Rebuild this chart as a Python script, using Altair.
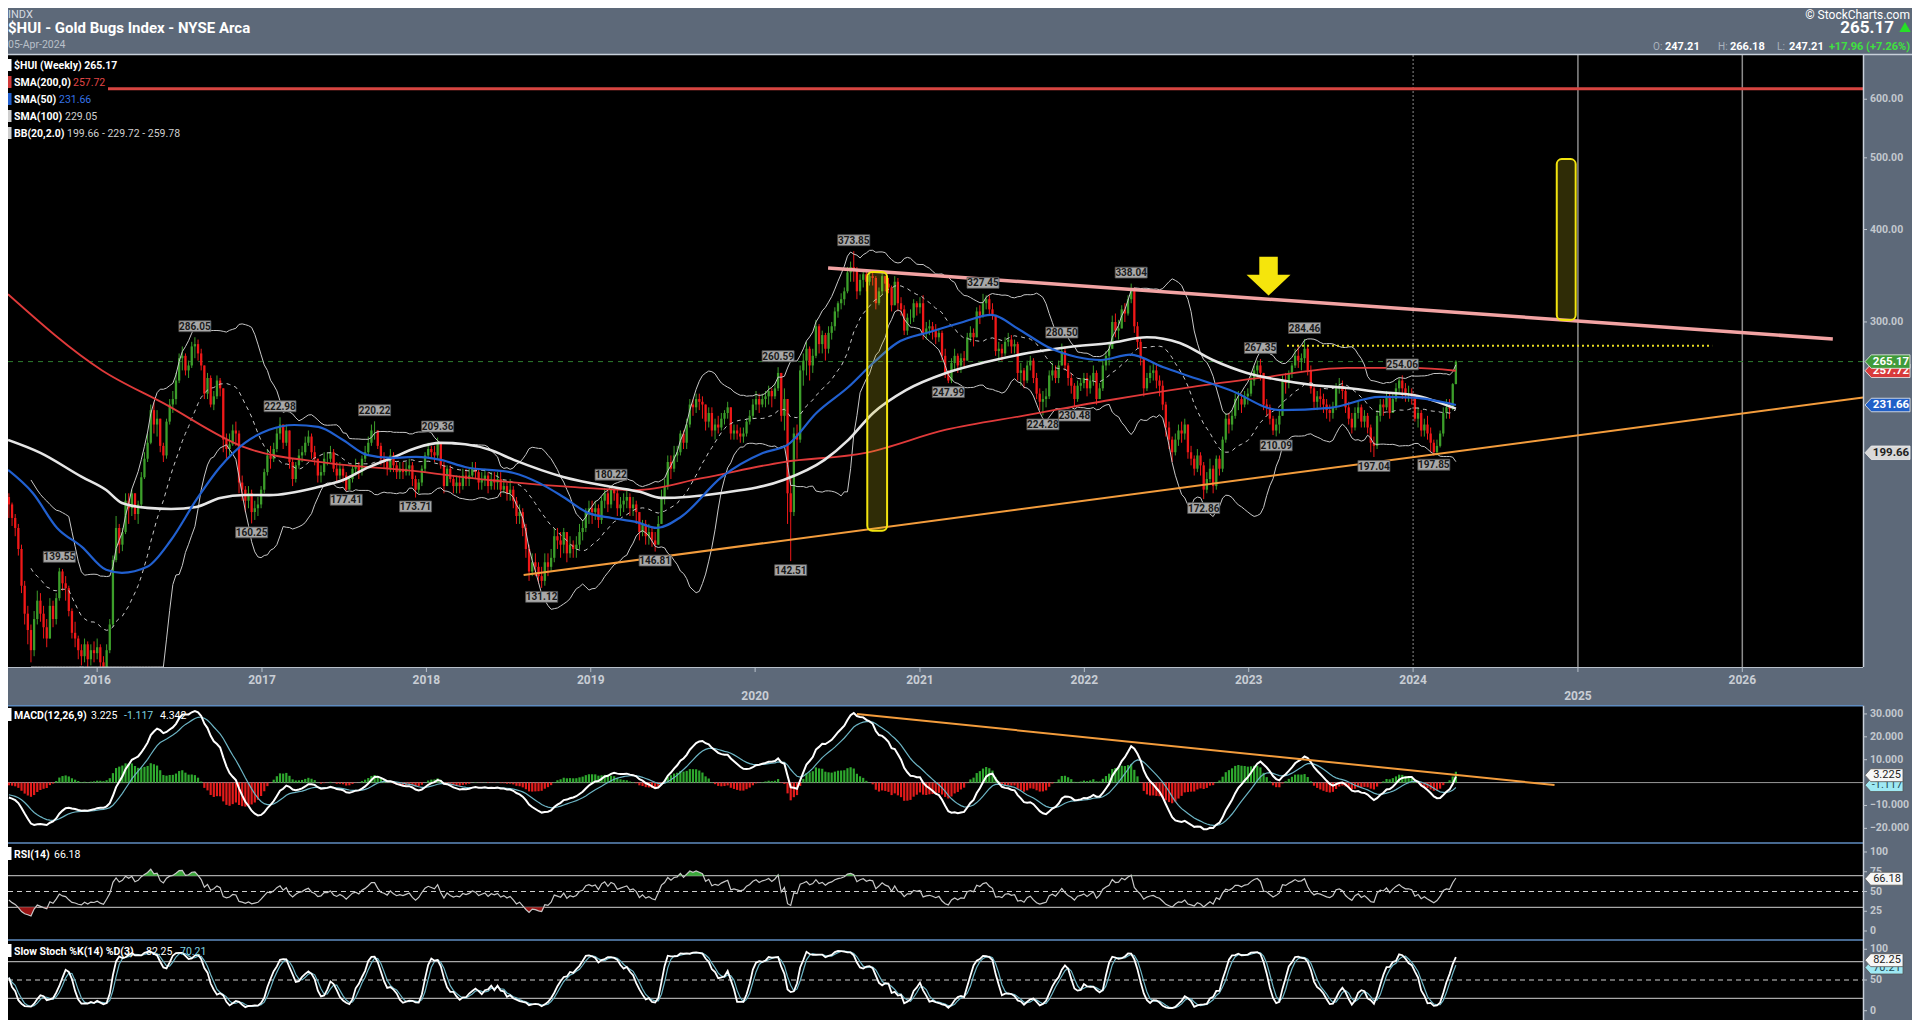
import altair as alt
import numpy as np
import pandas as pd

# ---------------- weekly $HUI candles (one value per Friday) ----------------
first_open = 174.0
close_2015 = [170, 163, 158, 148, 132, 121, 115, 108, 119, 126, 121, 116, 112, 124, 119,
              127, 138, 133, 131, 122, 114, 112, 108, 106, 110, 105, 108, 107]
high_2015 = [176, 171, 165, 160, 150, 134, 124, 117, 122, 130, 129, 124, 119, 127, 126,
             129, 139.55, 139, 136, 132, 123, 118, 113, 110, 112, 111, 110, 111]
low_2015 = [163, 159, 154, 145, 129, 117, 110, 104, 106, 117, 118, 112, 109, 112, 116,
            117, 126, 130, 126, 120, 112, 109, 105, 103, 104, 102, 103, 104]

close_2016 = [109, 104, 101, 108, 117, 143, 158, 150, 156, 172, 168, 176, 165, 170, 185, 196, 206, 228,
              218, 222, 204, 198, 220, 232, 236, 250, 268, 270, 258, 262, 278, 280, 272, 262, 240,
              252, 232, 238, 250, 244, 208, 202, 205, 214, 212, 182, 178, 172, 176, 166, 168, 170, 178]
high_2016 = [112, 110, 106, 110, 119, 145, 164, 160, 158, 176, 176, 178, 174, 172, 188, 200, 212, 232,
             234, 228, 222, 206, 222, 236, 242, 256, 272, 278, 272, 266, 282, 286.05, 284, 276, 262,
             256, 254, 242, 254, 252, 240, 212, 212, 218, 220, 214, 186, 180, 180, 178, 172, 174, 180]
low_2016 = [105, 101, 99, 100, 107, 116, 142, 146, 147, 155, 160, 164, 162, 160, 168, 184, 194, 205,
            212, 210, 200, 194, 196, 218, 226, 232, 248, 258, 254, 252, 260, 268, 266, 258, 236,
            236, 230, 228, 236, 238, 200, 196, 198, 204, 204, 176, 172, 166, 168, 160.25, 162, 164, 168]

close_2017 = [188, 198, 196, 202, 212, 218, 206, 214, 194, 184, 192, 198, 200, 206, 210, 200, 196,
              186, 188, 196, 196, 200, 190, 186, 190, 186, 178, 184, 190, 192, 188, 196, 200, 206,
              214, 214, 204, 196, 194, 190, 198, 192, 188, 190, 188, 190, 192, 184, 178, 182, 190, 198]
high_2017 = [190, 202, 204, 206, 216, 222.98, 218, 218, 212, 196, 194, 202, 204, 210, 214, 212, 204,
             196, 192, 200, 200, 204, 202, 194, 194, 192, 188, 186, 192, 196, 194, 198, 204, 210,
             218, 220.22, 214, 206, 200, 196, 202, 200, 194, 194, 194, 194, 196, 194, 186, 184, 192, 200]
low_2017 = [176, 186, 190, 194, 200, 208, 202, 204, 190, 180, 182, 190, 194, 198, 204, 196, 192,
            182, 182, 186, 192, 194, 188, 182, 184, 182, 177.41, 179, 182, 186, 184, 186, 194, 198,
            204, 208, 202, 192, 190, 186, 188, 188, 184, 184, 184, 186, 186, 180, 173.71, 176, 180, 188]

close_2018 = [202, 200, 198, 206, 192, 180, 190, 184, 180, 182, 180, 186, 184, 186, 190, 188, 182,
              184, 186, 180, 184, 182, 184, 178, 180, 176, 178, 172, 164, 166, 158, 148, 138, 142, 140,
              136, 134, 142, 140, 144, 154, 152, 150, 156, 146, 150, 148, 150, 156, 158, 166, 168]
high_2018 = [206, 204, 204, 209.36, 206, 194, 192, 192, 186, 186, 186, 190, 190, 190, 194, 194, 190,
             188, 190, 188, 188, 188, 188, 188, 184, 182, 184, 180, 174, 170, 168, 160, 150, 146, 146,
             142, 140, 146, 146, 148, 158, 158, 156, 158, 156, 154, 152, 154, 160, 162, 168, 172]
low_2018 = [196, 196, 194, 196, 190, 176, 180, 182, 176, 176, 176, 178, 180, 180, 184, 184, 178,
            178, 180, 176, 178, 178, 178, 174, 176, 172, 172, 168, 160, 160, 154, 144, 134, 136, 136,
            133, 131.12, 132, 136, 138, 142, 148, 144, 146, 142, 144, 144, 144, 148, 152, 156, 160]

close_2019 = [166, 168, 162, 172, 176, 170, 178, 176, 168, 170, 172, 174, 168, 170, 166, 156, 160,
              154, 156, 152, 150, 160, 174, 180, 194, 190, 198, 200, 212, 206, 218, 232, 230, 236, 234,
              232, 220, 226, 214, 218, 216, 222, 226, 230, 212, 214, 212, 210, 212, 220, 224, 232]
high_2019 = [172, 172, 170, 174, 179, 178, 180.22, 178, 178, 174, 176, 178, 176, 174, 172, 166, 162,
             162, 160, 158, 156, 164, 178, 184, 198, 198, 204, 204, 214, 214, 222, 236, 236, 240, 240,
             238, 232, 230, 230, 222, 224, 226, 228, 234, 230, 218, 218, 216, 216, 222, 228, 236]
low_2019 = [160, 162, 158, 160, 168, 166, 168, 172, 164, 164, 166, 168, 164, 164, 160, 152, 154,
            150, 150, 149, 146.81, 150, 160, 170, 178, 184, 188, 194, 198, 202, 202, 216, 224, 226, 228,
            222, 214, 216, 210, 208, 212, 214, 218, 222, 208, 208, 208, 206, 206, 210, 218, 222]

close_2020 = [236, 232, 236, 238, 242, 238, 244, 256, 224, 236, 176, 166, 212, 208, 258, 266, 276,
              262, 270, 296, 280, 288, 276, 290, 296, 310, 318, 322, 330, 350, 356, 352, 330, 342, 348,
              340, 346, 344, 318, 330, 346, 338, 334, 316, 340, 318, 312, 292, 304, 304, 318, 314]
high_2020 = [242, 240, 240, 242, 246, 244, 248, 260.59, 256, 244, 236, 186, 216, 218, 262, 272, 282,
             278, 276, 302, 298, 292, 290, 296, 300, 314, 320, 328, 334, 356, 362, 373.85, 356, 348, 352,
             352, 350, 352, 346, 334, 350, 346, 344, 336, 346, 344, 324, 316, 308, 312, 322, 320]
low_2020 = [228, 226, 230, 230, 232, 230, 236, 242, 220, 214, 160, 142.51, 164, 196, 206, 246, 254,
            250, 256, 268, 272, 272, 266, 272, 284, 292, 304, 312, 316, 328, 340, 340, 322, 326, 334,
            330, 336, 336, 312, 316, 326, 330, 328, 310, 316, 310, 306, 288, 288, 298, 300, 306]

close_2021 = [318, 290, 294, 296, 292, 286, 290, 270, 256, 250, 264, 270, 262, 268, 266, 286, 290, 286,
              310, 306, 318, 322, 312, 306, 274, 276, 272, 282, 284, 278, 280, 256, 258, 250, 262,
              266, 252, 240, 234, 236, 238, 254, 258, 252, 262, 274, 262, 252, 246, 236, 246, 248, 252]
high_2021 = [324, 326, 300, 302, 300, 298, 294, 292, 276, 258, 268, 276, 272, 272, 274, 290, 296, 294,
             314, 316, 327.45, 326, 326, 318, 306, 282, 280, 286, 290, 288, 284, 282, 264, 260, 266,
             270, 268, 256, 244, 242, 244, 258, 264, 262, 266, 280.5, 278, 264, 256, 248, 250, 252, 256]
low_2021 = [308, 284, 284, 288, 284, 280, 282, 266, 252, 247.99, 248, 258, 256, 256, 260, 266, 282, 278,
            286, 298, 304, 312, 306, 302, 270, 268, 266, 270, 278, 272, 272, 250, 246, 244, 248,
            258, 248, 236, 228, 224.28, 230, 236, 250, 248, 248, 262, 258, 246, 240, 230.48, 234, 242, 244]

close_2022 = [244, 250, 256, 236, 244, 262, 270, 276, 300, 292, 294, 312, 308, 322, 332, 296, 282,
              268, 244, 252, 256, 258, 250, 246, 232, 216, 208, 200, 208, 214, 212, 218, 200, 196,
              190, 198, 192, 178, 184, 190, 180, 196, 190, 208, 222, 218, 224, 236, 236, 232, 238, 240]
high_2022 = [256, 254, 262, 258, 248, 266, 274, 282, 306, 308, 302, 316, 318, 326, 338.04, 334, 300,
             286, 268, 256, 262, 264, 264, 254, 250, 234, 220, 210, 212, 218, 220, 222, 218, 204,
             198, 202, 200, 194, 188, 196, 192, 198, 198, 210, 226, 226, 228, 240, 242, 240, 242, 244]
low_2022 = [238, 240, 246, 232, 236, 242, 258, 262, 276, 286, 284, 294, 300, 306, 318, 290, 276,
            262, 238, 242, 248, 250, 244, 238, 228, 210, 202, 194, 198, 204, 206, 208, 196, 192,
            186, 188, 186, 172.86, 176, 182, 176, 178, 186, 188, 206, 212, 214, 222, 228, 226, 230, 232]

close_2023 = [250, 258, 262, 256, 232, 230, 222, 214, 218, 224, 250, 248, 256, 262, 270, 266, 268,
              276, 258, 244, 234, 238, 236, 232, 228, 226, 230, 244, 246, 242, 230, 222, 216, 226,
              230, 220, 224, 216, 206, 204, 224, 232, 230, 238, 226, 236, 244, 250, 244, 240, 240, 238]
high_2023 = [254, 262, 266, 267.35, 254, 236, 232, 224, 222, 228, 254, 256, 258, 264, 276, 278, 272,
             284.46, 278, 262, 246, 242, 244, 240, 236, 232, 234, 248, 252, 250, 244, 234, 226, 230,
             234, 232, 228, 226, 218, 210, 228, 236, 236, 242, 240, 240, 248, 252, 254.06, 248, 246, 244]
low_2023 = [238, 246, 252, 250, 228, 224, 218, 211, 210.09, 212, 226, 240, 244, 252, 260, 260, 258,
            264, 254, 240, 228, 228, 230, 226, 222, 220, 222, 228, 240, 236, 226, 218, 212, 214,
            222, 216, 216, 212, 200, 197.04, 202, 220, 224, 228, 222, 226, 234, 240, 236, 234, 234, 232]

close_2024 = [222, 226, 214, 218, 212, 206, 200, 204, 212, 226, 230, 229, 247.21, 265.17]
high_2024 = [240, 230, 228, 222, 224, 216, 208, 208, 214, 230, 236, 236, 248, 266.18]
low_2024 = [220, 216, 210, 210, 208, 200, 197.85, 198, 203, 210, 222, 222, 228, 247.21]

# indicator state carried in from the weeks before the visible window (read to match the left edge)
macd_seed_fast, macd_seed_slow, macd_seed_signal = 176.0, 182.5, -5.0
rsi_seed_gain, rsi_seed_loss = 2.4, 3.4

# ---------------- moving averages ----------------
sma200_dates = ["2015-06-17", "2016-01-12", "2016-05-27", "2016-11-24", "2017-05-24", "2017-11-22",
                "2018-05-22", "2018-11-18", "2019-04-11", "2019-09-05", "2020-03-04", "2020-09-02",
                "2021-02-28", "2021-08-29", "2022-02-27", "2022-08-26", "2023-01-26", "2023-08-07",
                "2024-01-01", "2024-04-05"]
sma200_vals = [327, 258, 233, 203, 193.5, 189, 183.4, 179.5, 177.8, 184.5, 194, 199.6, 214.5, 224.6,
               235.3, 245, 252, 260, 260, 257.72]

sma50_dates = ["2015-06-17", "2015-08-11", "2015-10-04", "2015-11-28", "2016-01-21", "2016-02-25",
               "2016-04-21", "2016-06-13", "2016-08-08", "2016-09-30", "2016-11-24", "2017-01-17",
               "2017-03-14", "2017-05-06", "2017-06-30", "2017-08-22", "2017-10-17", "2017-12-09",
               "2018-02-02", "2018-03-28", "2018-07-14", "2018-09-08", "2018-11-01", "2018-12-26",
               "2019-02-17", "2019-04-11", "2019-05-28", "2019-07-20", "2019-10-19", "2020-01-18",
               "2020-03-13", "2020-05-16", "2020-07-26", "2020-09-19", "2020-11-11", "2021-01-23",
               "2021-04-07", "2021-06-08", "2021-08-11", "2021-10-12", "2021-12-15", "2022-02-07",
               "2022-04-13", "2022-06-24", "2022-08-01", "2022-11-20", "2023-03-11", "2023-06-30",
               "2023-10-19", "2024-01-01", "2024-04-05"]
sma50_vals = [189.3, 176.2, 158, 149, 138.7, 137.4, 140, 152.2, 172.4, 191, 205.9, 214.5, 217.7, 216.4,
              207.8, 198.4, 196.5, 197.1, 195.3, 191, 187.5, 181.8, 174, 165.6, 163, 161, 158, 163.5,
              185.2, 199.5, 204.6, 226, 245, 264, 281, 290.8, 300, 306.6, 292.6, 277.5, 269, 266.5,
              271, 260.8, 256, 242.7, 228, 229.6, 237.6, 237, 231.66]

sma100_dates = ["2015-06-17", "2015-08-28", "2015-11-28", "2016-01-21", "2016-02-25", "2016-04-21",
                "2016-06-13", "2016-08-08", "2016-09-30", "2016-11-24", "2017-01-17", "2017-05-06",
                "2017-06-30", "2017-08-22", "2017-10-17", "2017-12-09", "2018-02-02", "2018-03-28",
                "2018-05-22", "2018-07-14", "2018-11-01", "2019-02-17", "2019-04-20", "2019-06-06",
                "2019-10-19", "2020-03-04", "2020-06-03", "2020-07-26", "2020-09-19", "2020-12-01",
                "2021-02-28", "2021-05-30", "2021-08-29", "2021-11-28", "2022-02-27", "2022-05-20",
                "2022-08-01", "2022-10-13", "2022-12-28", "2023-03-11", "2023-05-23", "2023-08-07",
                "2023-10-19", "2024-01-01", "2024-04-05"]
sma100_vals = [207.8, 199.6, 185.2, 177.8, 170.8, 168.2, 167.6, 168.7, 173.5, 175.1, 175, 179.5, 183.4,
               190.5, 196.5, 202.7, 205.9, 205, 201.5, 195.3, 185.2, 179.5, 176.8, 173.5, 176.2, 183.4,
               195.3, 207.8, 226, 242.7, 256, 265, 272.3, 277.5, 281, 286, 281, 266.5, 256, 250.4,
               246.6, 244.3, 241.2, 239, 229.05]

# ---------------- price labels at swing highs / lows ----------------
peak_dates = ["2015-10-09", "2016-08-05", "2017-02-10", "2017-09-08", "2018-01-26", "2019-02-15",
              "2020-02-21", "2020-08-07", "2021-05-21", "2021-11-12", "2022-04-15", "2023-01-27",
              "2023-05-05", "2023-12-08"]
peak_vals = [139.55, 286.05, 222.98, 220.22, 209.36, 180.22, 260.59, 373.85, 327.45, 280.50, 338.04,
             267.35, 284.46, 254.06]
trough_dates = ["2016-12-09", "2017-07-07", "2017-12-08", "2018-09-14", "2019-05-24", "2020-03-20",
                "2021-03-05", "2021-10-01", "2021-12-10", "2022-09-23", "2023-03-03", "2023-10-06",
                "2024-02-16"]
trough_vals = [160.25, 177.41, 173.71, 131.12, 146.81, 142.51, 247.99, 224.28, 230.48, 172.86, 210.09,
               197.04, 197.85]

# ---------------- annotations ----------------
pink_dates = ["2020-06-11", "2026-07-21"]
pink_vals = [354.8, 284.5]
orange_dates = ["2018-08-05", "2026-09-26"]
orange_vals = [136.5, 237.1]
macd_trend_dates = ["2020-08-14", "2024-11-10"]
macd_trend_vals = [30.0, -1.05]
box_start = ["2020-09-06", "2024-11-15"]
box_end = ["2020-10-20", "2024-12-27"]
box_low = [156.6, 301.9]
box_high = [350.5, 498.0]
dotted_start, dotted_end, dotted_val = "2023-03-27", "2025-10-26", 278.5
arrow_date, arrow_val = "2023-02-14", 346.0
red_level = 620.0
last_close = 265.17
price_ticks = [300, 400, 500, 600]
macd_ticks = [30, 20, 10, -10, -20]
rsi_ticks = [100, 75, 50, 25, 0]
stoch_ticks = [100, 50, 0]
years = list(range(2016, 2027))
price_tags = [("257.72", 257.72, "#d83a3a", "#ffffff"), ("265.17", 265.17, "#3f9b3a", "#ffffff"),
              ("231.66", 231.66, "#2160c8", "#ffffff"), ("199.66", 199.66, "#d9d9d9", "#222222")]

# ---------------- build the weekly frame and indicators ----------------
closes = close_2015 + close_2016 + close_2017 + close_2018 + close_2019 + close_2020 + close_2021 + close_2022 + close_2023 + close_2024
highs = high_2015 + high_2016 + high_2017 + high_2018 + high_2019 + high_2020 + high_2021 + high_2022 + high_2023 + high_2024
lows = low_2015 + low_2016 + low_2017 + low_2018 + low_2019 + low_2020 + low_2021 + low_2022 + low_2023 + low_2024
n = len(closes)
end = pd.Timestamp("2024-04-05")
dates = [(end - pd.Timedelta(weeks=n - 1 - i)).strftime("%Y-%m-%d") for i in range(n)]
c = pd.Series(closes, dtype=float)
o = c.shift(1).fillna(first_open)
h = pd.Series(np.maximum(np.maximum(np.array(highs, dtype=float), o.values), c.values))
lo = pd.Series(np.minimum(np.minimum(np.array(lows, dtype=float), o.values), c.values))

mid = c.rolling(20, min_periods=8).mean()
sdv = c.rolling(20, min_periods=8).std(ddof=0)

# MACD(12,26,9) and RSI(14) with Wilder smoothing, continuing from the seeded state
a12, a26, a9 = 2 / 13, 2 / 27, 2 / 10
ef, es, sg = macd_seed_fast, macd_seed_slow, macd_seed_signal
ag, al = rsi_seed_gain, rsi_seed_loss
prev = first_open
macd_l, sig_l, rsi_l = [], [], []
for v in c.values:
    ef = ef + a12 * (v - ef)
    es = es + a26 * (v - es)
    m = ef - es
    sg = sg + a9 * (m - sg)
    ch = v - prev
    ag = (ag * 13 + max(ch, 0)) / 14
    al = (al * 13 + max(-ch, 0)) / 14
    prev = v
    macd_l.append(m)
    sig_l.append(sg)
    rsi_l.append(100 - 100 / (1 + ag / al))
macd = pd.Series(macd_l)
sig = pd.Series(sig_l)
hist = macd - sig
rsi = pd.Series(rsi_l)

ll = lo.rolling(14, min_periods=1).min()
hh = h.rolling(14, min_periods=1).max()
fk = 100 * (c - ll) / (hh - ll)
sk = fk.rolling(3, min_periods=1).mean()
sdd = sk.rolling(3, min_periods=1).mean()

df = pd.DataFrame({
    "date": dates, "open": o, "high": h, "low": lo, "close": c,
    "col": np.where(c >= o, "#3c9e2a", "#f01818"),
    "bbu": mid + 2 * sdv, "bbm": mid, "bbl": mid - 2 * sdv,
    "macd": macd, "sig": sig, "hist": hist, "zero": 0.0,
    "hcol": np.where(hist >= 0, "#2ea82e", "#e31b1b"),
    "rsi": rsi, "rhi": np.maximum(rsi, 70), "rlo": np.minimum(rsi, 30),
    "r70": 70.0, "r30": 30.0, "k": sk, "d": sdd,
})

# ---------------- scales (pixel ranges of each panel) ----------------
W, H = 1904, 1012
PW = 1855
P_TOP, P_BOT = 47, 659
M_TOP, M_BOT = 697.7, 835
R_TOP, R_BOT = 835, 932
S_TOP, S_BOT = 932, 1012

xs = alt.Scale(domain=[alt.DateTime(year=2015, month=6, date=17, utc=True),
                       alt.DateTime(year=2026, month=9, date=26, utc=True)], range=[0, PW])
ys_p = alt.Scale(type="log", domain=[102.5, 688.6], range=[P_BOT, P_TOP], clamp=True, nice=False)
ys_m = alt.Scale(domain=[-26.4, 33.6], range=[M_BOT, M_TOP], clamp=True, nice=False, zero=False)
ys_r = alt.Scale(domain=[-11.4, 111.4], range=[R_BOT, R_TOP], clamp=True, nice=False, zero=False)
ys_s = alt.Scale(domain=[-15.1, 115.1], range=[S_BOT, S_TOP], clamp=True, nice=False, zero=False)

FONT = "Roboto"
one = pd.DataFrame({"a": [0]})


def X(f="date"):
    return alt.X(f + ":T", scale=xs, axis=None)


def Y(f, s):
    return alt.Y(f + ":Q", scale=s, axis=None)


def box(x0, x1, y0, y1, fill):
    return alt.Chart(one).mark_rect(fill=fill).encode(
        x=alt.value(x0), x2=alt.value(x1), y=alt.value(y0), y2=alt.value(y1))


def hline(y, x0, x1, color, width=1.0, dash=None):
    kw = dict(color=color, strokeWidth=width)
    if dash:
        kw["strokeDash"] = dash
    return alt.Chart(one).mark_rule(**kw).encode(x=alt.value(x0), x2=alt.value(x1), y=alt.value(y))


def vline(x, y0, y1, color, width=1.0):
    return alt.Chart(one).mark_rule(color=color, strokeWidth=width).encode(
        x=alt.value(x), y=alt.value(y0), y2=alt.value(y1))


def txt(x, y, s, size=10.5, color="#ffffff", weight="normal", align="left", baseline="alphabetic"):
    return alt.Chart(one).mark_text(text=s, font=FONT, fontSize=size, color=color, fontWeight=weight,
                                    align=align, baseline=baseline).encode(x=alt.value(x), y=alt.value(y))


def level(v, s, color, width=1.0, dash=None):
    kw = dict(color=color, strokeWidth=width)
    if dash:
        kw["strokeDash"] = dash
    return alt.Chart(pd.DataFrame({"v": [v]})).mark_rule(**kw).encode(
        y=Y("v", s), x=alt.value(0), x2=alt.value(PW))


def series_line(frame, field, s, color, width, dash=None, interp="linear"):
    kw = dict(color=color, strokeWidth=width, interpolate=interp)
    if dash:
        kw["strokeDash"] = dash
    return alt.Chart(frame).mark_line(**kw).encode(x=X(), y=Y(field, s))


L = []
# panel backgrounds
L.append(box(0, PW, P_TOP, P_BOT, "#000000"))
L.append(box(0, PW, M_TOP, S_BOT + 10, "#000000"))

# year grid lines in the price panel
yl = pd.DataFrame({"date": ["2024-01-01"]})
L.append(alt.Chart(yl).mark_rule(color="#8c8c8c", strokeWidth=1, strokeDash=[2, 2]).encode(
    x=X(), y=alt.value(P_TOP), y2=alt.value(P_BOT)))
yl2 = pd.DataFrame({"date": ["2025-01-01", "2026-01-01"]})
L.append(alt.Chart(yl2).mark_rule(color="#8c8c8c", strokeWidth=1.5).encode(
    x=X(), y=alt.value(P_TOP), y2=alt.value(P_BOT)))

# horizontal levels
L.append(level(red_level, ys_p, "#d64541", 3))
L.append(level(last_close, ys_p, "#2e7d2e", 1, [5, 5]))

# candles
L.append(alt.Chart(df).mark_rule(strokeWidth=1).encode(
    x=X(), y=Y("low", ys_p), y2="high:Q", color=alt.Color("col:N", scale=None)))
L.append(alt.Chart(df).mark_rule(strokeWidth=2.3, strokeCap="butt").encode(
    x=X(), y=Y("open", ys_p), y2="close:Q", color=alt.Color("col:N", scale=None)))

# Bollinger bands
L.append(series_line(df, "bbu", ys_p, "#c8c8c8", 1))
L.append(series_line(df, "bbl", ys_p, "#c8c8c8", 1))
L.append(series_line(df, "bbm", ys_p, "#c8c8c8", 1, [4, 4]))

# moving averages
s200 = pd.DataFrame({"date": sma200_dates, "v": sma200_vals})
s100 = pd.DataFrame({"date": sma100_dates, "v": sma100_vals})
s50 = pd.DataFrame({"date": sma50_dates, "v": sma50_vals})
L.append(series_line(s200, "v", ys_p, "#e03a3a", 1.8, interp="monotone"))
L.append(series_line(s100, "v", ys_p, "#e6e6e6", 2.6, interp="monotone"))
L.append(series_line(s50, "v", ys_p, "#2160d0", 2.2, interp="monotone"))

# trend lines
L.append(series_line(pd.DataFrame({"date": pink_dates, "v": pink_vals}), "v", ys_p, "#f2a3a3", 3.5))
L.append(series_line(pd.DataFrame({"date": orange_dates, "v": orange_vals}), "v", ys_p, "#f39c3c", 2))
L.append(alt.Chart(pd.DataFrame({"d0": [dotted_start], "d1": [dotted_end], "v": [dotted_val]})).mark_rule(
    color="#e8dc22", strokeWidth=2, strokeDash=[2, 3]).encode(x=X("d0"), x2="d1:T", y=Y("v", ys_p)))

# yellow highlight boxes
bx = pd.DataFrame({"d0": box_start, "d1": box_end, "p0": box_low, "p1": box_high})
L.append(alt.Chart(bx).mark_rect(cornerRadius=5, fill="#d8c81a", fillOpacity=0.22, stroke="#f2e40f",
                                 strokeWidth=2).encode(x=X("d0"), x2="d1:T", y=Y("p0", ys_p), y2="p1:Q"))

# yellow arrow
ARROW = "M-0.42,-0.886 L0.42,-0.886 L0.42,-0.068 L1,-0.068 L0,0.886 L-1,-0.068 L-0.42,-0.068 Z"
L.append(alt.Chart(pd.DataFrame({"date": [arrow_date], "v": [arrow_val]})).mark_point(
    shape=ARROW, size=1936, filled=True, fill="#f5e50c", opacity=1, strokeWidth=0).encode(
    x=X(), y=Y("v", ys_p)))

# swing labels
BOXP = "M-1,-0.34 L1,-0.34 L1,0.34 L-1,0.34 Z"
pk = pd.DataFrame({"date": peak_dates, "v": peak_vals})
tr = pd.DataFrame({"date": trough_dates, "v": trough_vals})
for frame, off in ((pk, -11), (tr, 9)):
    L.append(alt.Chart(frame).mark_point(shape=BOXP, size=1024, filled=True, fill="#a8a8a8", opacity=1,
                                         stroke="#505050", strokeWidth=0.8, yOffset=off).encode(
        x=X(), y=Y("v", ys_p)))
    L.append(alt.Chart(frame).mark_text(font=FONT, fontSize=10, fontWeight="bold", color="#1a1a1a",
                                        baseline="middle", dy=off + 0.5).encode(
        x=X(), y=Y("v", ys_p), text=alt.Text("v:Q", format=".2f")))

# price panel legend
L.append(box(0, 100, 48, 84, "#000000"))
leg = [(61, "$HUI (Weekly) 265.17", "", "#ffffff", "#ffffff", 0),
       (78, "SMA(200,0)", "257.72", "#e04646", "#d03a3a", 65),
       (95, "SMA(50)", "231.66", "#3573e6", "#2160d0", 51),
       (112, "SMA(100)", "229.05", "#cfcfcf", "#cfcfcf", 57),
       (129, "BB(20,2.0)", "199.66 - 229.72 - 259.78", "#cfcfcf", "#cfcfcf", 59)]
for yb, name, val, vcol, bcol, vx in leg:
    L.append(box(0, 3.5, yb - 10, yb + 2, bcol))
    L.append(txt(6, yb, name, 10.5, "#ffffff", "bold"))
    if val:
        L.append(txt(vx, yb, val, 10.5, vcol))

# price panel borders
L.append(hline(46.5, 0, W, "#c8d0da", 1.5))
L.append(hline(P_BOT + 0.5, 0, PW, "#b8c0ca", 1.2))
L.append(vline(PW + 0.5, P_TOP, P_BOT, "#c8d0da", 1.5))

# x-axis year labels and ticks
yd = pd.DataFrame({"date": [f"{y}-01-01" for y in years], "lab": [str(y) for y in years],
                   "low": [y in (2020, 2025) for y in years]})
L.append(alt.Chart(yd).mark_rule(color="#b8c0ca", strokeWidth=1).encode(
    x=X(), y=alt.value(P_BOT), y2=alt.value(P_BOT + 5)))
for is_low, yy in ((False, 672), (True, 688)):
    L.append(alt.Chart(yd[yd["low"] == is_low]).mark_text(font=FONT, fontSize=12, fontWeight="bold",
                                                          color="#c9ced5", baseline="middle").encode(
        x=X(), y=alt.value(yy), text="lab:N"))

# right price axis
pt = pd.DataFrame({"v": price_ticks})
L.append(alt.Chart(pt).mark_rule(color="#c0c6ce").encode(y=Y("v", ys_p), x=alt.value(PW), x2=alt.value(PW + 4)))
L.append(alt.Chart(pt).mark_text(font=FONT, fontSize=10.5, fontWeight="bold", color="#c3c8cf", align="left",
                                 baseline="middle").encode(
    y=Y("v", ys_p), x=alt.value(PW + 7), text=alt.Text("v:Q", format=".2f")))

TAG = "M-1,0 L-0.72,-0.3 L1,-0.3 L1,0.3 L-0.72,0.3 Z"
for lab, v, fill, tcol in price_tags:
    fr = pd.DataFrame({"v": [v], "lab": [lab]})
    L.append(alt.Chart(fr).mark_point(shape=TAG, size=2025, filled=True, fill=fill, opacity=1,
                                      stroke="#eeeeee", strokeWidth=0.8).encode(
        y=Y("v", ys_p), x=alt.value(PW + 24.5)))
    L.append(alt.Chart(fr).mark_text(font=FONT, fontSize=11.5, fontWeight="bold", color=tcol,
                                     baseline="middle").encode(
        y=Y("v", ys_p), x=alt.value(PW + 28), text="lab:N"))

# ---------------- MACD panel ----------------
L.append(level(0, ys_m, "#9a9a9a", 1))
L.append(alt.Chart(df).mark_rule(strokeWidth=2.2, strokeCap="butt").encode(
    x=X(), y=Y("zero", ys_m), y2="hist:Q", color=alt.Color("hcol:N", scale=None)))
L.append(series_line(df, "sig", ys_m, "#6cb4c4", 1.2))
L.append(series_line(df, "macd", ys_m, "#ffffff", 2))
L.append(series_line(pd.DataFrame({"date": macd_trend_dates, "v": macd_trend_vals}), "v", ys_m, "#f39c3c", 2))

# ---------------- RSI panel ----------------
L.append(level(70, ys_r, "#a8a8a8", 1.2))
L.append(level(30, ys_r, "#a8a8a8", 1.2))
L.append(level(50, ys_r, "#d0d0d0", 1, [5, 4]))
L.append(alt.Chart(df).mark_area(color="#3aa83a", opacity=1).encode(x=X(), y=Y("rhi", ys_r), y2="r70:Q"))
L.append(alt.Chart(df).mark_area(color="#9a1414", opacity=1).encode(x=X(), y=Y("rlo", ys_r), y2="r30:Q"))
L.append(series_line(df, "rsi", ys_r, "#c8c8c8", 1.2))

# ---------------- Slow stochastic panel ----------------
L.append(level(80, ys_s, "#a8a8a8", 1.2))
L.append(level(20, ys_s, "#a8a8a8", 1.2))
L.append(level(50, ys_s, "#d0d0d0", 1, [5, 4]))
L.append(series_line(df, "d", ys_s, "#6cb4c4", 1.2))
L.append(series_line(df, "k", ys_s, "#ffffff", 1.8))

# lower panel separators and borders
for yy in (M_TOP, R_TOP, S_TOP):
    L.append(hline(yy, 0, PW, "#5f8cc0", 1.5))
L.append(vline(PW + 0.5, M_TOP, S_BOT + 10, "#c8d0da", 1.5))

# lower axes
for ticks, s, fmt in ((macd_ticks, ys_m, ".3f"), (rsi_ticks, ys_r, "d"), (stoch_ticks, ys_s, "d")):
    tf = pd.DataFrame({"v": ticks})
    L.append(alt.Chart(tf).mark_rule(color="#c0c6ce").encode(y=Y("v", s), x=alt.value(PW), x2=alt.value(PW + 4)))
    L.append(alt.Chart(tf).mark_text(font=FONT, fontSize=10.5, fontWeight="bold", color="#c3c8cf", align="left",
                                     baseline="middle").encode(
        y=Y("v", s), x=alt.value(PW + 7), text=alt.Text("v:Q", format=fmt)))

TAGS = "M-1,0 L-0.7,-0.34 L1,-0.34 L1,0.34 L-0.7,0.34 Z"
lower_tags = [("-1.117", -1.117, ys_m, "#9fe9f4", "#214a55"), ("3.225", 3.225, ys_m, "#f6f6f6", "#222222"),
              ("66.18", 66.18, ys_r, "#f6f6f6", "#222222"),
              ("70.21", 70.21, ys_s, "#9fe9f4", "#214a55"), ("82.25", 82.25, ys_s, "#f6f6f6", "#222222")]
for lab, v, s, fill, tcol in lower_tags:
    fr = pd.DataFrame({"v": [v], "lab": [lab]})
    L.append(alt.Chart(fr).mark_point(shape=TAGS, size=1444, filled=True, fill=fill, opacity=1,
                                      stroke="#555555", strokeWidth=0.8).encode(
        y=Y("v", s), x=alt.value(PW + 21)))
    L.append(alt.Chart(fr).mark_text(font=FONT, fontSize=11, color=tcol, baseline="middle").encode(
        y=Y("v", s), x=alt.value(PW + 24), text="lab:N"))

# lower legends
L.append(box(0, 3.5, 700, 713, "#ffffff"))
L.append(txt(6, 711, "MACD(12,26,9)", 10.5, "#ffffff", "bold"))
L.append(txt(83, 711, "3.225", 10.5, "#ffffff"))
L.append(txt(116, 711, "-1.117", 10.5, "#7fd3e0"))
L.append(txt(152, 711, "4.342", 10.5, "#ffffff"))
L.append(box(0, 3.5, 839, 852, "#ffffff"))
L.append(txt(6, 850, "RSI(14)", 10.5, "#ffffff", "bold"))
L.append(txt(46, 850, "66.18", 10.5, "#ffffff"))
L.append(box(0, 3.5, 936, 949, "#ffffff"))
L.append(txt(6, 947, "Slow Stoch %K(14) %D(3)", 10.5, "#ffffff", "bold"))
L.append(txt(138, 947, "82.25", 10.5, "#ffffff"))
L.append(txt(172, 947, "70.21", 10.5, "#7fd3e0"))

# ---------------- header ----------------
L.append(txt(0, 10, "INDX", 11, "#d5dae1"))
L.append(txt(0, 25, "$HUI - Gold Bugs Index - NYSE Arca", 15, "#ffffff", "bold"))
L.append(txt(0, 40, "05-Apr-2024", 10.5, "#b9c0c9"))
L.append(txt(1902, 11, "\u00a9 StockCharts.com", 12, "#ffffff", align="right"))
L.append(txt(1886, 25, "265.17", 17, "#ffffff", "bold", align="right"))
L.append(alt.Chart(one).mark_point(shape="triangle-up", size=130, filled=True, fill="#27e027", opacity=1).encode(
    x=alt.value(1897), y=alt.value(19)))
L.append(txt(1645, 42, "O:", 10, "#aab2bd"))
L.append(txt(1657, 42, "247.21", 11, "#ffffff", "bold"))
L.append(txt(1710, 42, "H:", 10, "#aab2bd"))
L.append(txt(1722, 42, "266.18", 11, "#ffffff", "bold"))
L.append(txt(1769, 42, "L:", 10, "#aab2bd"))
L.append(txt(1781, 42, "247.21", 11, "#ffffff", "bold"))
L.append(txt(1902, 42, "+17.96 (+7.26%)", 11, "#3fe23f", "bold", align="right"))

chart = alt.layer(*L).resolve_scale(y="independent").properties(
    width=W, height=H, background="#5d6979", padding=0,
    autosize=alt.AutoSizeParams(type="none"),
).configure_view(stroke=None)

chart.save("out.html", embed_options={"renderer": "svg", "actions": False})
